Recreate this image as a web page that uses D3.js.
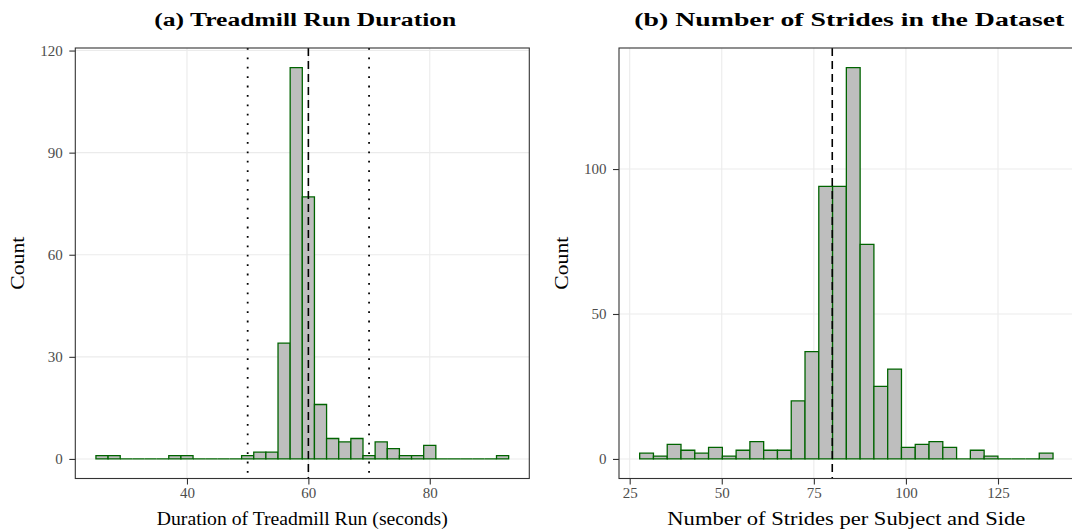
<!DOCTYPE html>
<html>
<head>
<meta charset="utf-8">
<script src="https://cdn.jsdelivr.net/npm/d3@7"></script>
<style>
  html, body { margin: 0; padding: 0; background: #fff; }
  svg { display: block; }
  text { font-family: "Liberation Serif", "DejaVu Serif", serif; }
</style>
</head>
<body>
<svg id="chart" width="1072" height="531"></svg>
<script>
// ---------------- DATA ----------------
// Panel (a): treadmill run duration histogram (binwidth 2 s, first bin starts at 25 s)
const durationBinStart = 25;
const durationBinWidth = 2;
const durationCounts = [1, 1, 0, 0, 0, 0, 1, 1, 0, 0, 0, 0, 1, 2, 2, 34, 115, 77, 16, 6, 5, 6, 1, 5, 3, 1, 1, 4, 0, 0, 0, 0, 0, 1];
const durationRefMain = 60;
const durationRefBounds = [50, 70];
const durationXTicks = [40, 60, 80];
const durationYTicks = [0, 30, 60, 90, 120];

// Panel (b): number of strides per subject and side (30 bins)
const strideBinStart = 27.71;
const strideBinWidth = 3.741;
const strideCounts = [2, 1, 5, 3, 2, 4, 1, 3, 6, 3, 3, 20, 37, 94, 94, 135, 74, 25, 31, 4, 5, 6, 4, 0, 3, 1, 0, 0, 0, 2];
const strideRefMain = 80;
const strideXTicks = [25, 50, 75, 100, 125];
const strideYTicks = [0, 50, 100];

const titles = ["(a) Treadmill Run Duration", "(b) Number of Strides in the Dataset"];
const xTitles = ["Duration of Treadmill Run (seconds)", "Number of Strides per Subject and Side"];
const yTitle = "Count";

// ---------------- DRAW ----------------
const svg = d3.select("#chart");

function fitWidth(sel, target) {
  const w = sel.node().getComputedTextLength();
  if (w > 0) sel.attr("textLength", target).attr("lengthAdjust", "spacingAndGlyphs");
}

function panel(cfg) {
  const { left, right, top, bottom, binStart, binWidth, counts, xTicks, yTicks, dashed, dotted,
          title, xTitle, titleW, xTitleW } = cfg;
  const bins = counts.map((c, i) => ({ x0: binStart + i * binWidth, x1: binStart + (i + 1) * binWidth, c }));
  const xmin = bins[0].x0, xmax = bins[bins.length - 1].x1;
  const xpad = (xmax - xmin) * 0.05;
  const ymax = d3.max(counts);
  const ypad = ymax * 0.05;
  const x = d3.scaleLinear().domain([xmin - xpad, xmax + xpad]).range([left, right]);
  const y = d3.scaleLinear().domain([-ypad, ymax + ypad]).range([bottom, top]);

  const g = svg.append("g");
  const clipId = "clip" + Math.round(left);
  svg.append("clipPath").attr("id", clipId).append("rect")
    .attr("x", left).attr("y", top).attr("width", right - left).attr("height", bottom - top);
  const pg = g.append("g").attr("clip-path", `url(#${clipId})`);

  // grid
  pg.selectAll(".gx").data(xTicks).join("line")
    .attr("x1", d => x(d)).attr("x2", d => x(d)).attr("y1", top).attr("y2", bottom)
    .attr("stroke", "#EBEBEB").attr("stroke-width", 1.1);
  pg.selectAll(".gy").data(yTicks).join("line")
    .attr("x1", left).attr("x2", right).attr("y1", d => y(d)).attr("y2", d => y(d))
    .attr("stroke", "#EBEBEB").attr("stroke-width", 1.1);

  // bars
  pg.selectAll(".bar").data(bins).join("path")
    .attr("d", d => `M${x(d.x0)},${y(0)}H${x(d.x1)}V${y(d.c)}H${x(d.x0)}Z`)
    .attr("fill", "#BEBEBE").attr("stroke", "#006400").attr("stroke-width", 1.3)
    .attr("stroke-linejoin", "miter");

  // reference lines
  (dotted || []).forEach(v => {
    pg.append("line").attr("x1", x(v)).attr("x2", x(v)).attr("y1", top).attr("y2", bottom)
      .attr("stroke", "#000").attr("stroke-width", 1.8).attr("stroke-dasharray", "1.8,7.6");
  });
  pg.append("line").attr("x1", x(dashed)).attr("x2", x(dashed)).attr("y1", top).attr("y2", bottom)
    .attr("stroke", "#000").attr("stroke-width", 1.6).attr("stroke-dasharray", "8,5");

  // border
  g.append("rect").attr("x", left).attr("y", top).attr("width", right - left).attr("height", bottom - top)
    .attr("fill", "none").attr("stroke", "#333333").attr("stroke-width", 1.1);

  // axes
  const xAxis = d3.axisBottom(x).tickValues(xTicks).tickSize(6).tickPadding(3);
  const yAxis = d3.axisLeft(y).tickValues(yTicks).tickSize(6).tickPadding(6.5);
  const xa = g.append("g").attr("transform", `translate(0,${bottom})`).call(xAxis);
  const ya = g.append("g").attr("transform", `translate(${left},0)`).call(yAxis);
  [xa, ya].forEach(a => {
    a.select(".domain").remove();
    a.selectAll(".tick line").attr("stroke", "#333333").attr("stroke-width", 1.1);
    a.selectAll(".tick text").attr("fill", "#4D4D4D").style("font-size", "15px")
      .style("font-family", '"Liberation Serif", serif');
  });

  const t = g.append("text").attr("x", (left + right) / 2 + 3).attr("y", 26).attr("text-anchor", "middle")
    .style("font-size", "18px").style("font-weight", "bold").text(title);
  fitWidth(t, titleW);
  const xt = g.append("text").attr("x", (left + right) / 2).attr("y", 525).attr("text-anchor", "middle")
    .style("font-size", "19px").text(xTitle);
  fitWidth(xt, xTitleW);
  const yt = g.append("text").attr("transform", `translate(${left - 51},${(top + bottom) / 2}) rotate(-90)`)
    .attr("text-anchor", "middle").style("font-size", "19px").text(yTitle);
  fitWidth(yt, 53);
}

panel({
  left: 75.3, right: 529.3, top: 48, bottom: 478.5,
  binStart: durationBinStart, binWidth: durationBinWidth, counts: durationCounts,
  xTicks: durationXTicks, yTicks: durationYTicks,
  dashed: durationRefMain, dotted: durationRefBounds,
  title: titles[0], xTitle: xTitles[0], titleW: 302, xTitleW: 291
});
panel({
  left: 619, right: 1073.7, top: 48, bottom: 478.5,
  binStart: strideBinStart, binWidth: strideBinWidth, counts: strideCounts,
  xTicks: strideXTicks, yTicks: strideYTicks,
  dashed: strideRefMain, dotted: [],
  title: titles[1], xTitle: xTitles[1], titleW: 430, xTitleW: 358
});
</script>
</body>
</html>
